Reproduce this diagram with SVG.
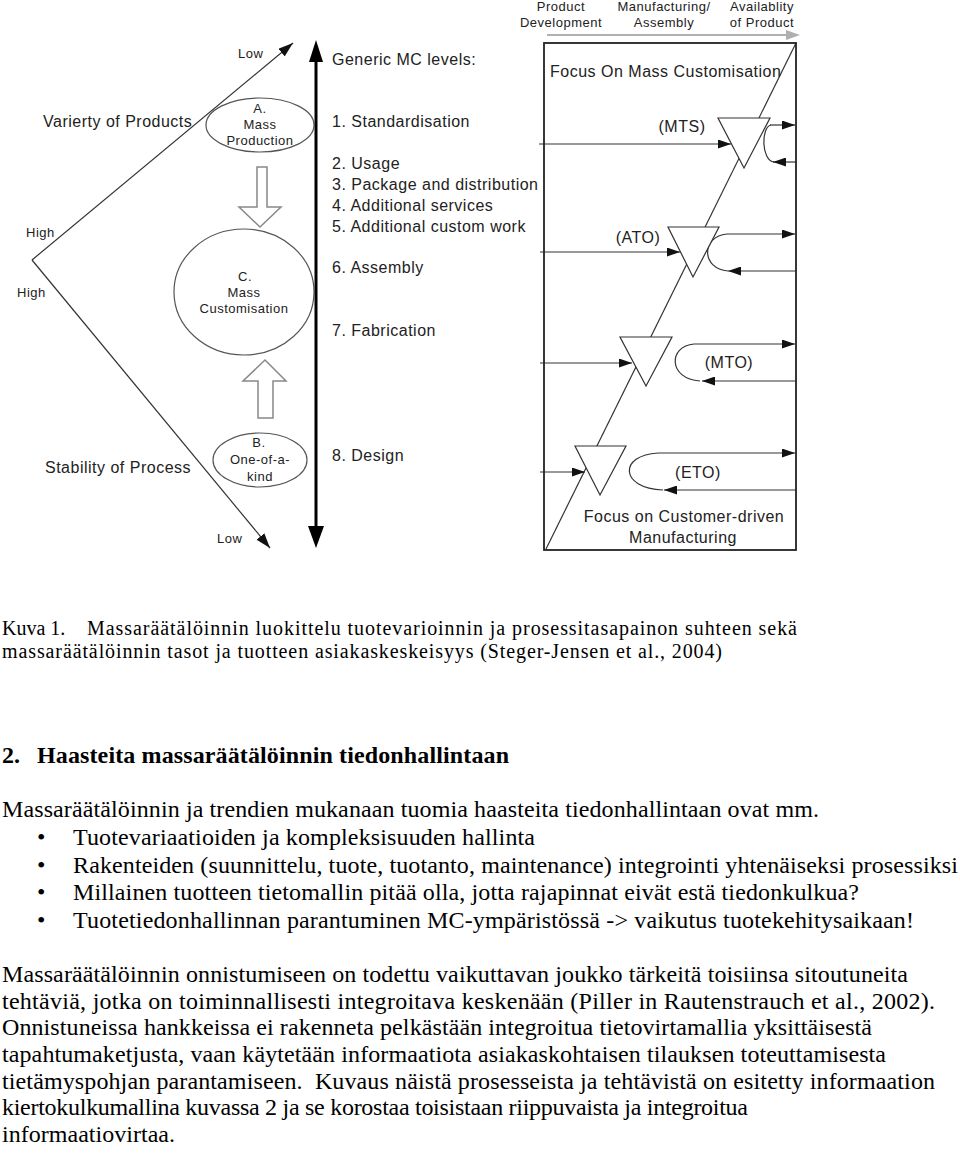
<svg xmlns="http://www.w3.org/2000/svg" width="960" height="1154" viewBox="0 0 960 1154">
<defs>
<style>
.d{font-family:"Liberation Sans",Arial,sans-serif;fill:#222}
.s13{font-size:13px;letter-spacing:0.5px}
.s16{font-size:16px;letter-spacing:0.5px}
.m{text-anchor:middle}
.ln{stroke:#333;stroke-width:1.2;fill:none}
.tri{fill:#fff;stroke:#333;stroke-width:1.2}
.ell{fill:none;stroke:#555;stroke-width:1.2}
.hol{fill:#fff;stroke:#888;stroke-width:1.5}
.t{font-family:"Liberation Serif","Times New Roman",serif;fill:#000}
.b{font-size:24px}
.c{font-size:20px}
.h{font-size:24px;font-weight:bold}
</style>
<marker id="ah" markerUnits="userSpaceOnUse" markerWidth="13" markerHeight="9" refX="13" refY="4.5" orient="auto"><path d="M0,0 L13,4.5 L0,9 z" fill="#111"/></marker>
<marker id="av" markerUnits="userSpaceOnUse" markerWidth="15" markerHeight="10" refX="15" refY="5" orient="auto"><path d="M0,0 L15,5 L0,10 z" fill="#111"/></marker>
</defs>
<rect width="960" height="1154" fill="#fff"/>

<g id="axes-left">
<line class="ln" x1="32" y1="260" x2="293" y2="43" stroke-width="1" marker-end="url(#av)"/>
<line class="ln" x1="32" y1="260" x2="270" y2="548" stroke-width="1" marker-end="url(#av)"/>
<text class="d s13" x="238" y="58">Low</text>
<text class="d s13" x="26" y="237">High</text>
<text class="d s13" x="17" y="297">High</text>
<text class="d s13" x="217" y="543">Low</text>
<text class="d s16" x="43" y="127">Varierty of Products</text>
<text class="d s16" x="45" y="473">Stability of Process</text>
</g>

<g id="node-a">
<ellipse class="ell" cx="260" cy="125" rx="54" ry="27"/>
<text class="d s13 m" x="260" y="113">A.</text>
<text class="d s13 m" x="260" y="129">Mass</text>
<text class="d s13 m" x="260" y="145">Production</text>
</g>
<g id="node-c">
<ellipse class="ell" cx="244" cy="292" rx="70" ry="63"/>
<text class="d s13 m" x="245" y="281">C.</text>
<text class="d s13 m" x="244" y="297">Mass</text>
<text class="d s13 m" x="244" y="313">Customisation</text>
</g>
<g id="node-b">
<ellipse class="ell" cx="260" cy="460" rx="47" ry="27"/>
<text class="d s13 m" x="259" y="447">B.</text>
<text class="d s13 m" x="260" y="464">One-of-a-</text>
<text class="d s13 m" x="260" y="481">kind</text>
</g>

<g id="connectors">
<polygon class="hol" points="257,167 267,167 267,207 281,207 260,227 239,207 257,207"/>
<polygon class="hol" points="265,360 286,381 273,381 273,418 258,418 258,381 243,381"/>
<line x1="316" y1="58" x2="316" y2="530" stroke="#000" stroke-width="3"/>
<polygon points="316,40 323,62 309,62" fill="#000"/>
<polygon points="316,548 324,526 308,526" fill="#000"/>
<line x1="547" y1="35" x2="788" y2="35" stroke="#b0b0b0" stroke-width="2"/>
<polygon points="786,30 800,35 786,40" fill="#b0b0b0"/>
<line class="ln" x1="546" y1="549" x2="796" y2="43"/>
<line class="ln" x1="539" y1="144" x2="731" y2="144" marker-end="url(#ah)"/>
<line class="ln" x1="540" y1="252" x2="680" y2="252" marker-end="url(#ah)"/>
<line class="ln" x1="540" y1="363" x2="632" y2="363" marker-end="url(#ah)"/>
<line class="ln" x1="540" y1="472" x2="585" y2="472" marker-end="url(#ah)"/>
<line class="ln" x1="770" y1="125" x2="795" y2="125" marker-end="url(#ah)"/>
<path class="ln" d="M771,125 C761,127 761,160 774,162"/>
<line class="ln" x1="796" y1="162" x2="773" y2="162" marker-end="url(#ah)"/>
<line class="ln" x1="727" y1="234" x2="795" y2="234" marker-end="url(#ah)"/>
<path class="ln" d="M727,234 C701,236 701,269 728,271"/>
<line class="ln" x1="796" y1="271" x2="728" y2="271" marker-end="url(#ah)"/>
<line class="ln" x1="694" y1="344" x2="795" y2="344" marker-end="url(#ah)"/>
<path class="ln" d="M694,344 C668,346 668,379 700,381"/>
<line class="ln" x1="796" y1="381" x2="702" y2="381" marker-end="url(#ah)"/>
<line class="ln" x1="658" y1="453" x2="795" y2="453" marker-end="url(#ah)"/>
<path class="ln" d="M658,453 C619,455 619,488 663,490"/>
<line class="ln" x1="796" y1="490" x2="664" y2="490" marker-end="url(#ah)"/>
</g>

<g id="mc-levels">
<text class="d s16" x="332" y="65">Generic MC levels:</text>
<text class="d s16" x="332" y="127">1. Standardisation</text>
<text class="d s16" x="332" y="169">2. Usage</text>
<text class="d s16" x="332" y="190">3. Package and distribution</text>
<text class="d s16" x="332" y="211">4. Additional services</text>
<text class="d s16" x="332" y="232">5. Additional custom work</text>
<text class="d s16" x="332" y="273">6. Assembly</text>
<text class="d s16" x="332" y="336">7. Fabrication</text>
<text class="d s16" x="332" y="461">8. Design</text>
</g>

<g id="stage-labels">
<text class="d s13 m" x="561" y="11">Product</text>
<text class="d s13 m" x="561" y="27">Development</text>
<text class="d s13 m" x="664" y="11">Manufacturing/</text>
<text class="d s13 m" x="664" y="27">Assembly</text>
<text class="d s13 m" x="762" y="11">Availablity</text>
<text class="d s13 m" x="762" y="27">of Product</text>
</g>

<g id="focus-box">
<rect x="544" y="43" width="252" height="507" fill="none" stroke="#222" stroke-width="1.8"/>
<text class="d s16" x="550" y="77">Focus On Mass Customisation</text>
<text class="d s16 m" x="684" y="522">Focus on Customer-driven</text>
<text class="d s16 m" x="683" y="543">Manufacturing</text>
</g>

<g id="node-mts">
<polygon class="tri" points="718,118 770,118 744,168"/>
<text class="d s16 m" x="682" y="132">(MTS)</text>
</g>
<g id="node-ato">
<polygon class="tri" points="668,227 719,227 693,277"/>
<text class="d s16 m" x="638" y="243">(ATO)</text>
</g>
<g id="node-mto">
<polygon class="tri" points="620,337 672,337 646,386"/>
<text class="d s16 m" x="729" y="368">(MTO)</text>
</g>
<g id="node-eto">
<polygon class="tri" points="575,446 626,446 600,495"/>
<text class="d s16 m" x="698" y="478">(ETO)</text>
</g>

<g id="body-text">
<text class="t c" x="2" y="635">Kuva 1.</text>
<text class="t c" x="87" y="635" textLength="710">Massaräätälöinnin luokittelu tuotevarioinnin ja prosessitasapainon suhteen sekä</text>
<text class="t c" x="2" y="658" textLength="720">massaräätälöinnin tasot ja tuotteen asiakaskeskeisyys (Steger-Jensen et al., 2004)</text>
<text class="t h" x="2" y="763">2.</text>
<text class="t h" x="37" y="763" textLength="472">Haasteita massaräätälöinnin tiedonhallintaan</text>
<text class="t b" x="2" y="817" textLength="817">Massaräätälöinnin ja trendien mukanaan tuomia haasteita tiedonhallintaan ovat mm.</text>
<text class="t b" x="37" y="845">•</text>
<text class="t b" x="73" y="845" textLength="462">Tuotevariaatioiden ja kompleksisuuden hallinta</text>
<text class="t b" x="37" y="873">•</text>
<text class="t b" x="73" y="873" textLength="885">Rakenteiden (suunnittelu, tuote, tuotanto, maintenance) integrointi yhtenäiseksi prosessiksi</text>
<text class="t b" x="37" y="900">•</text>
<text class="t b" x="73" y="900" textLength="786">Millainen tuotteen tietomallin pitää olla, jotta rajapinnat eivät estä tiedonkulkua?</text>
<text class="t b" x="37" y="928">•</text>
<text class="t b" x="73" y="928" textLength="841">Tuotetiedonhallinnan parantuminen MC-ympäristössä -&gt; vaikutus tuotekehitysaikaan!</text>
<text class="t b" x="2" y="982" textLength="906">Massaräätälöinnin onnistumiseen on todettu vaikuttavan joukko tärkeitä toisiinsa sitoutuneita</text>
<text class="t b" x="2" y="1009" textLength="933">tehtäviä, jotka on toiminnallisesti integroitava keskenään (Piller in Rautenstrauch et al., 2002).</text>
<text class="t b" x="2" y="1035" textLength="870">Onnistuneissa hankkeissa ei rakenneta pelkästään integroitua tietovirtamallia yksittäisestä</text>
<text class="t b" x="2" y="1062" textLength="884">tapahtumaketjusta, vaan käytetään informaatiota asiakaskohtaisen tilauksen toteuttamisesta</text>
<text class="t b" x="2" y="1089" textLength="933" xml:space="preserve">tietämyspohjan parantamiseen.  Kuvaus näistä prosesseista ja tehtävistä on esitetty informaation</text>
<text class="t b" x="2" y="1115" textLength="746">kiertokulkumallina kuvassa 2 ja se korostaa toisistaan riippuvaista ja integroitua</text>
<text class="t b" x="2" y="1142" textLength="173">informaatiovirtaa.</text>
</g>
</svg>
